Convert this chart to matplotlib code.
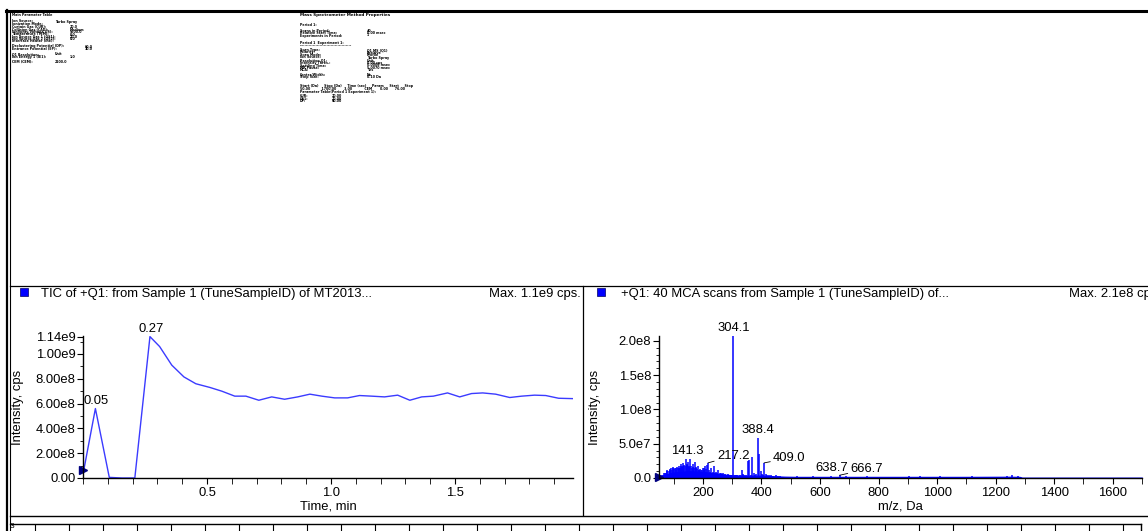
import matplotlib.pyplot as plt
from matplotlib.lines import Line2D
from matplotlib.patches import Rectangle
from matplotlib.ticker import FixedLocator, MultipleLocator, NullFormatter

plt.rcParams["font.family"] = ["Liberation Sans", "DejaVu Sans"]
plt.rcParams["font.size"] = 9.4

W, H = 1148, 531
FS = 9.4

# TIC of +Q1: time (min) and intensity (cps)
tic_time = [0.000, 0.050, 0.106, 0.157, 0.209, 0.270, 0.309, 0.358, 0.407, 0.455,
            0.512, 0.560, 0.612, 0.657, 0.709, 0.761, 0.813, 0.866, 0.915, 0.963,
            1.015, 1.067, 1.115, 1.164, 1.216, 1.269, 1.318, 1.366, 1.413, 1.470,
            1.519, 1.567, 1.612, 1.664, 1.721, 1.769, 1.821, 1.866, 1.918, 1.976]
tic_cps = [3.0e7, 5.6e8, 5.0e6, 0.0, 0.0, 1.14e9, 1.06e9, 9.1e8, 8.15e8, 7.6e8,
           7.3e8, 7.0e8, 6.6e8, 6.6e8, 6.27e8, 6.54e8, 6.35e8, 6.54e8, 6.76e8, 6.6e8,
           6.46e8, 6.46e8, 6.65e8, 6.6e8, 6.54e8, 6.68e8, 6.27e8, 6.54e8, 6.6e8, 6.86e8,
           6.54e8, 6.81e8, 6.86e8, 6.76e8, 6.49e8, 6.6e8, 6.68e8, 6.65e8, 6.43e8, 6.4e8]
tic_peaks = [0.050, 0.270]

# +Q1 MCA spectrum: stick m/z (Da) and intensity (cps)
ms_mz = [58, 62, 66, 70, 74, 77, 79, 83, 86, 89, 91, 95, 97, 99, 102, 105, 107, 109,
         112, 115, 117, 119, 122, 124, 126, 129, 131, 133, 137, 139, 141.3, 144, 147,
         149, 152, 154, 156, 160, 163, 165, 167, 170, 173, 175, 177, 181, 184, 186,
         188, 191, 195, 197, 199, 203, 205, 207, 211, 214, 217.2, 221, 225, 229, 233,
         237, 241, 245, 249, 253, 257, 261, 265, 270, 275, 280, 285, 290, 295, 300,
         304.1, 308, 313, 318, 325, 332, 336, 342, 348, 355, 358, 364, 369, 373, 378,
         383, 388.4, 392, 397, 401, 405, 409.0, 414, 420, 426, 432, 440, 448, 456,
         465, 475, 520, 575, 638.7, 666.7, 690, 760, 905, 940, 1010, 1120, 1240,
         1255, 1278]
ms_cps = [4e6, 5e6, 7e6, 8e6, 7e6, 1.0e7, 1.2e7, 1.0e7, 1.3e7, 1.1e7, 1.5e7, 1.2e7,
          1.4e7, 1.6e7, 1.3e7, 1.5e7, 1.2e7, 1.4e7, 1.6e7, 1.4e7, 1.5e7, 1.7e7, 1.5e7,
          1.8e7, 2.0e7, 1.6e7, 1.8e7, 2.2e7, 1.9e7, 1.7e7, 2.8e7, 1.9e7, 2.1e7, 2.4e7,
          1.6e7, 1.8e7, 2.7e7, 1.7e7, 1.5e7, 1.6e7, 2.0e7, 1.4e7, 2.3e7, 1.6e7, 1.4e7,
          1.3e7, 1.7e7, 1.2e7, 1.2e7, 1.3e7, 1.1e7, 1.2e7, 1.5e7, 1.2e7, 1.4e7, 1.7e7,
          1.3e7, 1.9e7, 2.2e7, 1.1e7, 9e6, 1.4e7, 9e6, 1.8e7, 8e6, 9e6, 7e6, 1.1e7,
          7e6, 8e6, 6e6, 7e6, 6e6, 5e6, 6e6, 5e6, 4e6, 5e6, 2.07e8, 4e6, 4e6, 4e6, 5e6,
          1.2e7, 6e6, 4e6, 5e6, 2.5e7, 2.6e7, 4e6, 3.0e7, 8e6, 5e6, 6e6, 5.8e7, 3.5e7,
          1.0e7, 6e6, 5e6, 2.2e7, 6e6, 5e6, 4e6, 4e6, 3e6, 4e6, 3e6, 3e6, 2e6, 2.5e6,
          2.5e6, 3.5e6, 4e6, 3e6, 2.5e6, 2.5e6, 2.5e6, 2.5e6, 2.5e6, 3.5e6, 4e6, 3e6]
# low-level profile underneath the sticks
base_mz = [50, 55, 70, 100, 150, 200, 250, 300, 350, 400, 450, 480, 520, 700, 900,
           1100, 1250, 1282, 1290, 1700]
base_cps = [0, 3e6, 5e6, 8e6, 1.0e7, 9e6, 6e6, 4e6, 3.5e6, 3.5e6, 2.5e6, 2e6, 1.7e6,
            1.7e6, 1.7e6, 1.7e6, 1.9e6, 1.7e6, 5e5, 5e5]
ms_peaks = [141.3, 217.2, 304.1, 388.4, 409.0, 638.7, 666.7]
# label placement: (dx px, dy px, leader line)
ms_label_style = [(2, 2, False), (9, 7, True), (0, 2, False), (0, 2, False),
                  (9, 5, True), (0, 2, False), (11, 6, True)]

fig = plt.figure(figsize=(W / 100, H / 100), dpi=100)


def fx(px):
    return px / W


def fy(py):
    return 1 - py / H


def hline(y, x0, x1, lw=1.0, color="black"):
    fig.add_artist(Line2D([fx(x0), fx(x1)], [fy(y), fy(y)], lw=lw, color=color))


def vline(x, y0, y1, lw=1.0, color="black"):
    fig.add_artist(Line2D([fx(x), fx(x)], [fy(y0), fy(y1)], lw=lw, color=color))


# page frame
hline(11, 6, W, lw=2.2)
vline(7, 10, H, lw=1.6)
vline(10, 12, H, lw=0.8)
hline(285.5, 10, W, lw=0.9)
hline(515.5, 10, W, lw=1.0)
vline(583, 286, 515, lw=0.9)

# method text in the top pane
small = dict(fontsize=2.3, fontweight="bold", color="black", family="DejaVu Sans",
             va="center", ha="left")
head = dict(small, fontsize=3.0)
left_rows = [
    (15, "Main Parameter Table", None, None),
    (21.5, "Ion Source:", "Turbo Spray", 55),
    (24, "Ionization Mode:", "", 55),
    (26.5, "Curtain Gas (CUR):", "20.0", 70),
    (30, "Collision Gas (CAD):", "Medium", 70),
    (32, "IonSpray Voltage (IS):", "5500.0", 70),
    (34.5, "Temperature (TEM):", "0.0", 70),
    (37, "Ion Source Gas 1 (GS1):", "20.0", 70),
    (39, "Ion Source Gas 2 (GS2):", "0.0", 70),
    (41, "Interface Heater (ihe):", "", 70),
    (46.5, "Declustering Potential (DP):", "60.0", 85),
    (49, "Entrance Potential (EP):", "10.0", 85),
    (54, "Q1 Resolution:", "Unit", 55),
    (57, "Ion Energy 1 (IE1):", "1.0", 70),
    (62, "CEM (CEM):", "2100.0", 55),
]
for i, (y, name, val, vx) in enumerate(left_rows):
    fig.text(fx(12), fy(y), name, **small)
    if val:
        fig.text(fx(vx), fy(y), val, **small)

right_rows = [
    (15, "Mass Spectrometer Method Properties", None, None),
    (24.5, "Period 1:", None, None),
    (30.5, "Scans in Period:", "40", 367),
    (33, "Relative Start Time:", "0.00 msec", 367),
    (35.5, "Experiments in Period:", "1", 367),
    (43, "Period 1  Experiment 1:", None, None),
    (46.5, "--------------------------------------", None, None),
    (50.5, "Scan Type:", "Q1 MS (Q1)", 367),
    (52.5, "Polarity:", "Positive", 367),
    (55, "Scan Mode:", "Profile", 367),
    (57.5, "Ion Source:", "Turbo Spray", 367),
    (61, "Resolution Q1:", "Unit", 367),
    (63, "Intensity Thres.:", "0.00 cps", 367),
    (65.5, "Settling Time:", "0.0000 msec", 367),
    (68, "MR Pause:", "5.0070 msec", 367),
    (70.5, "MCA:", "Yes", 367),
    (74.5, "Center/Width:", "No", 367),
    (77, "Step Size:", "0.10 Da", 367),
    (86, "Start (Da)     Stop (Da)     Time (sec)     Param     Start     Stop", None, None),
    (89, "50.00          1700.00       3.00           CEM       0.00      76.00", None, None),
    (91.5, "Parameter Table(Period 1 Experiment 1):", None, None),
    (96, "CUR:", "20.00", 332),
    (98.5, "GS1:", "20.00", 332),
    (101.5, "DP:", "60.00", 332),
]
for i, (y, name, val, vx) in enumerate(right_rows):
    fig.text(fx(300), fy(y), name, **(head if i == 0 else small))
    if val:
        fig.text(fx(vx), fy(y), val, **small)

# pane headers
for x_sq, x_txt, title, x_max, max_txt, ha in [
    (20, 41, "TIC of +Q1: from Sample 1 (TuneSampleID) of MT2013...", 581,
     "Max. 1.1e9 cps.", "right"),
    (597, 621, "+Q1: 40 MCA scans from Sample 1 (TuneSampleID) of...", 1069,
     "Max. 2.1e8 cps.", "left"),
]:
    fig.add_artist(Rectangle((fx(x_sq), fy(296)), 8 / W, 8 / H, facecolor="#0000ff",
                             edgecolor="#000060", lw=0.5))
    fig.text(fx(x_txt), fy(297), title, va="baseline", ha="left", fontsize=FS)
    fig.text(fx(x_max), fy(297), max_txt, va="baseline", ha=ha, fontsize=FS)


def style_axes(ax):
    for side in ("top", "right"):
        ax.spines[side].set_visible(False)
    for side in ("left", "bottom"):
        ax.spines[side].set_linewidth(1.0)
    ax.tick_params(which="both", direction="out", color="black", labelsize=FS)
    ax.tick_params(axis="x", which="both", length=4, pad=2.5)
    ax.tick_params(axis="y", which="major", length=4, pad=1.5)
    ax.tick_params(axis="y", which="minor", length=2.2)
    ax.patch.set_alpha(0)


# TIC chromatogram
ax1 = fig.add_axes([fx(83), fy(478), 490 / W, 142 / H])
style_axes(ax1)
ax1.plot(tic_time, tic_cps, color="#3b3bff", lw=1.0)
ax1.set_xlim(0, 1.976)
ax1.set_ylim(0, 1.145e9)
ax1.xaxis.set_major_locator(FixedLocator([0.5, 1.0, 1.5]))
ax1.xaxis.set_minor_locator(MultipleLocator(0.1))
ax1.set_yticks([0, 2e8, 4e8, 6e8, 8e8, 1e9, 1.14e9],
               ["0.00", "2.00e8", "4.00e8", "6.00e8", "8.00e8", "1.00e9", "1.14e9"])
ax1.yaxis.set_minor_locator(MultipleLocator(1e8))
ax1.set_xlabel("Time, min", fontsize=FS)
ax1.set_ylabel("Intensity, cps", fontsize=FS)
ax1.xaxis.set_label_coords(0.5, -0.16)
ax1.yaxis.set_label_coords(-0.12, 0.5)
for t in tic_peaks:
    v = tic_cps[tic_time.index(t)]
    ax1.annotate(f"{t:.2f}", (t, v), xytext=(1, 2), textcoords="offset pixels",
                 ha="center", va="bottom", fontsize=FS, annotation_clip=False)
ax1.plot([0], [6.4e7], marker=">", ms=6, color="#000080", clip_on=False,
         transform=ax1.get_yaxis_transform())

# MCA spectrum
ax2 = fig.add_axes([fx(659), fy(478), 483 / W, 142 / H])
style_axes(ax2)
ax2.fill_between(base_mz, base_cps, color="#0000ff", lw=0.8, edgecolor="#0000ff")
ax2.vlines(ms_mz, 0, ms_cps, color="#0000ff", lw=1.1)
ax2.set_xlim(50, 1700)
ax2.set_ylim(0, 2.07e8)
ax2.xaxis.set_major_locator(FixedLocator([200, 400, 600, 800, 1000, 1200, 1400, 1600]))
ax2.xaxis.set_minor_locator(FixedLocator([100, 300, 500, 700, 900, 1100, 1300, 1500, 1700]))
ax2.set_yticks([0, 5e7, 1e8, 1.5e8, 2e8], ["0.0", "5.0e7", "1.0e8", "1.5e8", "2.0e8"])
ax2.yaxis.set_minor_locator(MultipleLocator(1e7))
ax2.set_xlabel("m/z, Da", fontsize=FS)
ax2.set_ylabel("Intensity, cps", fontsize=FS)
ax2.xaxis.set_label_coords(0.5, -0.16)
ax2.yaxis.set_label_coords(-0.12, 0.5)
for mz, (dx, dy, leader) in zip(ms_peaks, ms_label_style):
    v = ms_cps[ms_mz.index(mz)]
    if leader:
        ax2.annotate(f"{mz:.1f}", (mz, v), xytext=(dx, dy), textcoords="offset pixels",
                     ha="left", va="center", fontsize=FS, annotation_clip=False,
                     arrowprops=dict(arrowstyle="-", lw=0.6, color="black",
                                     shrinkA=0, shrinkB=0))
    else:
        ax2.annotate(f"{mz:.1f}", (mz, v), xytext=(dx, dy), textcoords="offset pixels",
                     ha="center", va="bottom", fontsize=FS, annotation_clip=False)
ax2.plot([0], [0.1e7], marker=">", ms=6, color="#000080", clip_on=False,
         transform=ax2.get_yaxis_transform())

# ruler of the next pane, cut off at the page bottom
ax3 = fig.add_axes([fx(10), fy(524) - 0.06, 1131 / W, 0.06])
for side in ("left", "bottom"):
    ax3.spines[side].set_visible(False)
ax3.spines["top"].set_linewidth(1.0)
ax3.spines["right"].set_linewidth(1.0)
ax3.set_xlim(-25, 1106)
ax3.set_yticks([])
ax3.xaxis.set_ticks_position("top")
ax3.xaxis.set_major_locator(MultipleLocator(34))
ax3.xaxis.set_major_formatter(NullFormatter())
ax3.tick_params(axis="x", direction="in", length=5, width=0.8)
ax3.patch.set_alpha(0)
fig.text(fx(10), fy(527), "3", fontsize=6, va="center", ha="left")

fig.savefig("out.png", dpi=100)
